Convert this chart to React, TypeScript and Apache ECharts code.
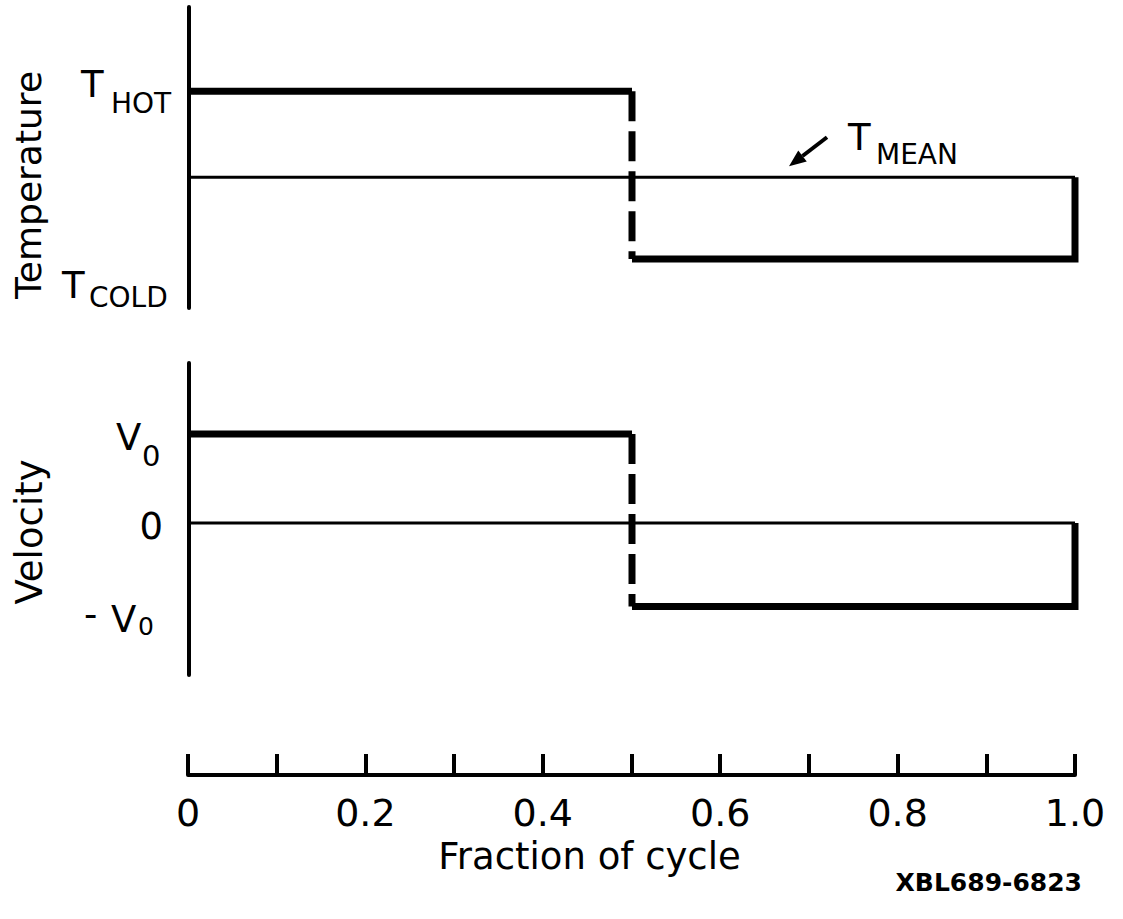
import React, { useEffect, useRef } from "react";
import * as echarts from "echarts";

// ---- data ----
const cycleEdges = [0, 0.5, 1.0]; // start, half-cycle switch, end (fraction of cycle)
const tempLevels = [1.0, 0.0, -0.95]; // T_HOT, T_MEAN, T_COLD (relative)
const velLevels = [1.0, 0.0, -0.94]; // V0, 0, -V0 (relative)
const xTickStep = 0.1;
const xLabelValues = [0, 0.2, 0.4, 0.6, 0.8, 1.0];
const xAxisTitle = "Fraction of cycle";
const figureId = "XBL689-6823";

const FONT = "DejaVu Sans";
const BLACK = "#000";

function panelSeries(levels: number[], idx: number) {
  const [hi, mid, lo] = levels;
  const [x0, x1, x2] = cycleEdges;
  const base = {
    type: "line",
    xAxisIndex: idx,
    yAxisIndex: idx,
    symbol: "none",
    showSymbol: false,
    silent: true,
  };
  return [
    {
      ...base,
      name: `mid-${idx}`,
      data: [[x0, mid], [x2, mid]],
      lineStyle: { color: BLACK, width: 3, cap: "butt" },
      z: 2,
    },
    {
      ...base,
      name: `first-${idx}`,
      data: [[x0, hi], [x1, hi]],
      lineStyle: { color: BLACK, width: 7, cap: "butt", join: "miter" },
      z: 3,
    },
    {
      ...base,
      name: `switch-${idx}`,
      data: [[x1, hi], [x1, lo]],
      lineStyle: { color: BLACK, width: 7, type: [30, 10], cap: "butt" },
      z: 3,
    },
    {
      ...base,
      name: `second-${idx}`,
      data: [[x1, lo], [x2, lo], [x2, mid]],
      lineStyle: { color: BLACK, width: 7, cap: "butt", join: "miter" },
      z: 3,
    },
  ];
}

function txt(text: string, x: number, y: number, size: number, extra: any = {}) {
  return {
    type: "text",
    x,
    y,
    style: {
      text,
      fontSize: size,
      fontFamily: FONT,
      fill: BLACK,
      align: "left",
      verticalAlign: "middle",
      ...extra,
    },
  };
}

export default function App() {
  const ref = useRef<HTMLDivElement>(null);

  useEffect(() => {
    if (!ref.current) return;
    const chart = echarts.init(ref.current, null, { renderer: "svg" });

    const yAxisCommon = {
      type: "value",
      axisLine: { show: true, onZero: false, lineStyle: { color: BLACK, width: 4 } },
      axisTick: { show: false },
      axisLabel: { show: false },
      splitLine: { show: false },
    };

    const option: any = {
      animation: false,
      backgroundColor: "#fff",
      grid: [
        { left: 189, right: 48, top: 7, height: 301 },
        { left: 189, right: 48, top: 363, height: 312 },
        { left: 188, right: 48, top: 700, height: 75 },
      ],
      xAxis: [
        { gridIndex: 0, type: "value", min: 0, max: 1, show: false },
        { gridIndex: 1, type: "value", min: 0, max: 1, show: false },
        {
          gridIndex: 2,
          type: "value",
          min: 0,
          max: 1,
          interval: xTickStep,
          axisLine: { show: true, onZero: false, lineStyle: { color: BLACK, width: 4 } },
          axisTick: { show: true, inside: true, length: 21, lineStyle: { color: BLACK, width: 4 } },
          splitLine: { show: false },
          axisLabel: {
            show: true,
            margin: 19,
            color: BLACK,
            fontSize: 38,
            fontFamily: FONT,
            showMinLabel: true,
            showMaxLabel: true,
            formatter: (v: number) =>
              xLabelValues.some((l) => Math.abs(l - v) < 1e-9) ? (v === 0 ? "0" : v.toFixed(1)) : "",
          },
          name: xAxisTitle,
          nameLocation: "middle",
          nameGap: 63,
          nameTextStyle: { color: BLACK, fontSize: 37, fontFamily: FONT, padding: [0, 84, 0, 0] },
        },
      ],
      yAxis: [
        { ...yAxisCommon, gridIndex: 0, min: -1.52, max: 1.98 },
        { ...yAxisCommon, gridIndex: 1, min: -1.71, max: 1.8 },
        { gridIndex: 2, type: "value", min: 0, max: 1, show: false },
      ],
      series: [...panelSeries(tempLevels, 0), ...panelSeries(velLevels, 1)],
    };

    chart.setOption(option);

    const py = (axis: number, v: number) => chart.convertToPixel({ yAxisIndex: axis }, v) as number;
    const hotY = py(0, tempLevels[0]);
    const meanY = py(0, tempLevels[1]);
    const tBottom = py(0, -1.52);
    const v0Y = py(1, velLevels[0]);
    const zeroY = py(1, velLevels[1]);
    const negY = py(1, velLevels[2]);

    // arrow pointing to the mean line
    const tip = [789, meanY - 11];
    const tail = [827, meanY - 40];
    const dx = tip[0] - tail[0];
    const dy = tip[1] - tail[1];
    const len = Math.hypot(dx, dy);
    const ux = dx / len;
    const uy = dy / len;
    const headLen = 17;
    const headHalf = 7;
    const bx = tip[0] - ux * headLen;
    const by = tip[1] - uy * headLen;
    const nx = -uy;
    const ny = ux;

    const BIG = 37;
    const SUB = 28;

    const graphic: any[] = [
      {
        type: "text",
        x: 28,
        y: 185,
        rotation: Math.PI / 2,
        style: { text: "Temperature", fontSize: 36, fontFamily: FONT, fill: BLACK, align: "center", verticalAlign: "middle" },
      },
      {
        type: "text",
        x: 29,
        y: 532,
        rotation: Math.PI / 2,
        style: { text: "Velocity", fontSize: 37, fontFamily: FONT, fill: BLACK, align: "center", verticalAlign: "middle" },
      },
      // T_HOT
      txt("T", 81, hotY - 7, BIG),
      txt("HOT", 111, hotY + 12, SUB),
      // T_COLD
      txt("T", 62, tBottom - 23, BIG),
      txt("COLD", 89, tBottom - 11, SUB),
      // T_MEAN
      txt("T", 848, meanY - 40, BIG),
      txt("MEAN", 876, meanY - 23, SUB),
      // V0
      txt("V", 116, v0Y + 3, BIG),
      txt("0", 142, v0Y + 22, 29),
      // 0
      txt("0", 163, zeroY + 3, BIG, { align: "right" }),
      // -V0
      txt("-", 84, negY + 8, BIG),
      txt("V", 111, negY + 13, BIG),
      txt("0", 138, negY + 20, 25),
      {
        type: "line",
        shape: { x1: tail[0], y1: tail[1], x2: bx, y2: by },
        style: { stroke: BLACK, lineWidth: 4 },
      },
      {
        type: "polygon",
        shape: {
          points: [
            [tip[0], tip[1]],
            [bx + nx * headHalf, by + ny * headHalf],
            [bx - nx * headHalf, by - ny * headHalf],
          ],
        },
        style: { fill: BLACK },
      },
      {
        type: "text",
        x: 1082,
        y: 882,
        style: { text: figureId, fontSize: 25, fontWeight: "bold", fontFamily: FONT, fill: BLACK, align: "right", verticalAlign: "middle" },
      },
    ];

    chart.setOption({ graphic });

    return () => chart.dispose();
  }, []);

  return (
    <div
      ref={ref}
      style={{ position: "fixed", left: 0, top: 0, width: "1123px", height: "919px", background: "#fff" }}
    />
  );
}
